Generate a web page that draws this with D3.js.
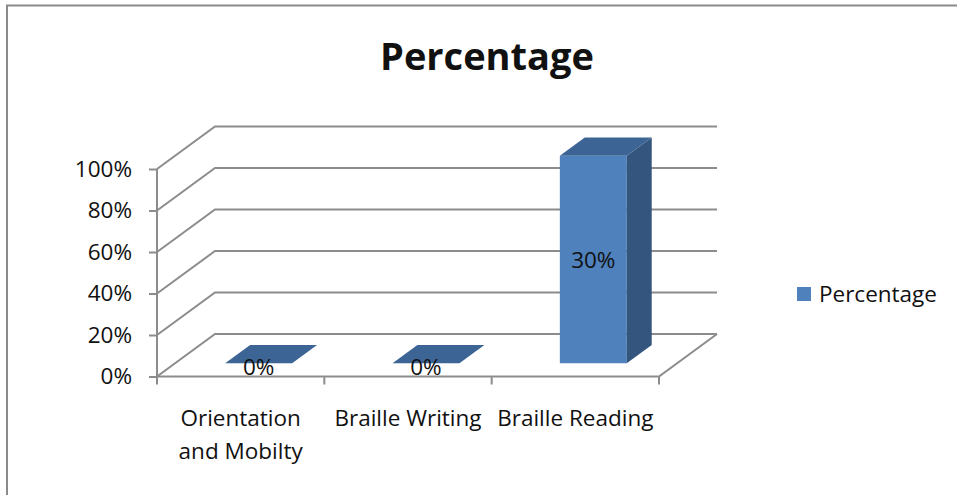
<!DOCTYPE html>
<html>
<head>
<meta charset="utf-8">
<script src="https://cdn.jsdelivr.net/npm/d3@7"></script>
<style>
  html, body { margin: 0; padding: 0; background: #fff; }
  svg { display: block; }
  text { font-family: "Open Sans", "Noto Sans", sans-serif; fill: #111; }
</style>
</head>
<body>
<svg id="chart" width="957" height="495"></svg>
<script>
// Skills and the share of respondents for each
const categories = ["Orientation and Mobilty", "Braille Writing", "Braille Reading"];
const shares = [0, 0, 1.0];
// Values printed on the bars
const reported = [0, 0, 0.30];
const yTicks = [0, 0.2, 0.4, 0.6, 0.8, 1.0];
const seriesName = "Percentage";
const chartTitle = "Percentage";

const svg = d3.select("#chart");
const pct = d3.format(".0%");
const labelSize = "22.5px";

// Plot frame and 3-D depth offset (floor recedes up and to the right)
const floorLeft = 157, floorRight = 659;
const depthX = 58, depthY = -42.5;
const off = f => [depthX * f, depthY * f];

const x = d3.scaleBand().domain(categories).range([floorLeft, floorRight]).padding(0);
const y = d3.scaleLinear().domain([0, 1]).range([376.5, 169]);

const gridColor = "#8c8c8c";

// Chart border
svg.append("path")
  .attr("d", "M7,495 V5.5 H957")
  .attr("fill", "none").attr("stroke", "#8a8a8a").attr("stroke-width", 2);

// Title
svg.append("text")
  .attr("x", 487).attr("y", 70)
  .attr("text-anchor", "middle")
  .style("font-size", "38px").style("font-weight", "bold")
  .text(chartTitle);

// Back wall gridlines with the side-wall diagonals
const grid = svg.append("g").attr("fill", "none").attr("stroke", gridColor).attr("stroke-width", 2);
yTicks.forEach(t => {
  const [dx, dy] = off(1);
  grid.append("path").attr("d",
    `M${floorLeft},${y(t)} L${floorLeft + dx},${y(t) + dy} H${floorRight + dx}`);
});
// Floor front edge and right diagonal
grid.append("path").attr("d",
  `M${floorLeft},${y(0)} H${floorRight} L${floorRight + depthX},${y(0) + depthY}`);

// Y axis
const yAxis = d3.axisLeft(y).tickValues(yTicks).tickFormat(pct).tickSize(8).tickPadding(17);
const gy = svg.append("g").attr("transform", `translate(${floorLeft},0)`).call(yAxis);
gy.select(".domain").attr("stroke", gridColor).attr("stroke-width", 2).attr("d", `M-0,${y(1)}V${y(0)}`);
gy.selectAll(".tick line").attr("stroke", gridColor).attr("stroke-width", 2);
gy.selectAll(".tick text").style("font-size", labelSize).style("font-family", "'Open Sans', sans-serif").attr("fill", "#111");

// Category ticks at band boundaries
const bounds = categories.map(c => x(c)).concat([floorRight]);
svg.append("g").selectAll("line").data(bounds).join("line")
  .attr("x1", d => d).attr("x2", d => d)
  .attr("y1", y(0)).attr("y2", y(0) + 8)
  .attr("stroke", gridColor).attr("stroke-width", 2);

// Category labels, wrapped to the band width
const catLines = {
  "Orientation and Mobilty": ["Orientation", "and Mobilty"],
  "Braille Writing": ["Braille Writing"],
  "Braille Reading": ["Braille Reading"]
};
const cl = svg.append("g").selectAll("text").data(categories).join("text")
  .attr("x", d => x(d) + x.bandwidth() / 2)
  .attr("y", 426)
  .attr("text-anchor", "middle")
  .style("font-size", labelSize);
cl.selectAll("tspan").data(d => catLines[d]).join("tspan")
  .attr("x", function () { return d3.select(this.parentNode).attr("x"); })
  .attr("dy", (d, i) => i === 0 ? 0 : 33)
  .text(d => d);

// 3-D bars: front face, right side and top
const frontFill = "#4f81bd", sideFill = "#34557d", topFill = "#3c6494";
const bw = x.bandwidth() * 0.4;
const f0 = 0.31, f1 = 0.74;
const bars = svg.append("g");
categories.forEach((c, i) => {
  const v = shares[i];
  const xl = x(c) + (x.bandwidth() - bw) / 2 + off(f0)[0];
  const xr = xl + bw;
  const yb = y(0) + off(f0)[1];
  const yt = y(v) + off(f0)[1];
  const ddx = depthX * (f1 - f0), ddy = depthY * (f1 - f0);
  if (v > 0) {
    bars.append("path").attr("fill", frontFill)
      .attr("d", `M${xl},${yb} V${yt} H${xr} V${yb} Z`);
    bars.append("path").attr("fill", sideFill)
      .attr("d", `M${xr},${yb} V${yt} L${xr + ddx},${yt + ddy} V${yb + ddy} Z`);
  }
  bars.append("path").attr("fill", topFill)
    .attr("d", `M${xl},${yt} H${xr} L${xr + ddx},${yt + ddy} H${xl + ddx} Z`);
});

// Value labels
svg.append("g").selectAll("text").data(categories).join("text")
  .attr("x", d => x(d) + x.bandwidth() / 2 + off(f0)[0])
  .attr("y", (d, i) => shares[i] > 0 ? (y(shares[i] / 2) + off(f0)[1] + 8) : y(0) - 2)
  .attr("text-anchor", "middle")
  .style("font-size", labelSize)
  .text((d, i) => pct(reported[i]));

// Legend
const lg = svg.append("g").attr("transform", "translate(797,287)");
lg.append("rect").attr("width", 14).attr("height", 14).attr("fill", frontFill);
lg.append("text").attr("x", 22).attr("y", 15).style("font-size", labelSize).text(seriesName);
</script>
</body>
</html>
